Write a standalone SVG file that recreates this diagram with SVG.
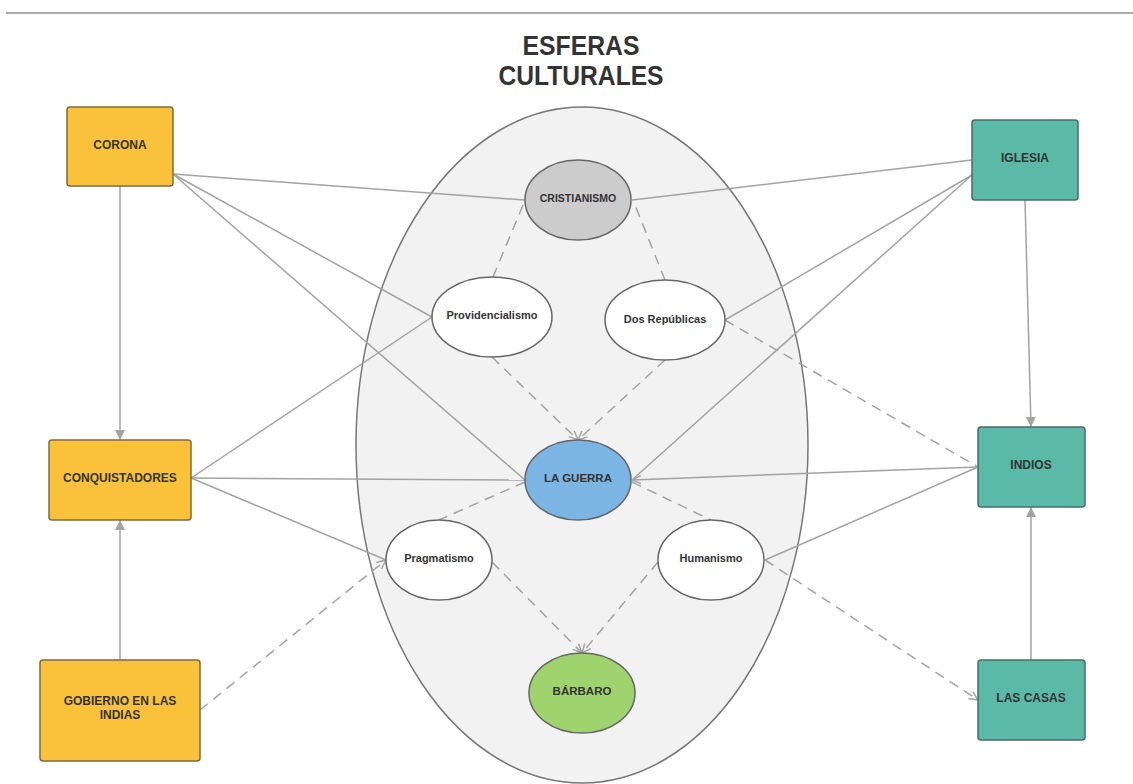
<svg xmlns="http://www.w3.org/2000/svg" width="1133" height="784" viewBox="0 0 1133 784">
<style>
.t{font-family:"Liberation Sans",Arial,sans-serif;font-weight:bold;fill:#333;text-anchor:middle;dominant-baseline:central}
.title{font-family:"Liberation Sans",Arial,sans-serif;font-weight:bold;font-size:27px;fill:#333;text-anchor:middle}
.yb{fill:#fac23a;stroke:#7d6b3c;stroke-width:1.5}
.tb{fill:#5ab9a7;stroke:#4a6d66;stroke-width:1.5}
.el{stroke:#666;stroke-width:1.5}
.c{fill:none;stroke:#a3a3a3;stroke-width:1.5}
.d{fill:none;stroke:#a3a3a3;stroke-width:1.5;stroke-dasharray:10,7}
</style>
<defs>
<marker id="fa" viewBox="0 0 10 10" refX="10" refY="5" markerWidth="10" markerHeight="10" markerUnits="userSpaceOnUse" orient="auto"><path d="M0,0 L10,5 L0,10 z" fill="#a3a3a3"/></marker>
<marker id="oa" viewBox="0 0 10 10" refX="10" refY="5" markerWidth="10" markerHeight="10" markerUnits="userSpaceOnUse" orient="auto"><path d="M1,1 L10,5 L1,9" fill="none" stroke="#a3a3a3" stroke-width="1.5"/></marker>
</defs>
<rect width="1133" height="784" fill="#fff"/>
<line x1="6" y1="13" x2="1133" y2="13" stroke="#aaa" stroke-width="2"/>
<text class="title" x="581" y="55" textLength="117" lengthAdjust="spacingAndGlyphs">ESFERAS</text>
<text class="title" x="581" y="85" textLength="165" lengthAdjust="spacingAndGlyphs">CULTURALES</text>
<g id="esfera"><ellipse cx="582" cy="445" rx="226" ry="338" fill="#f2f2f2" stroke="#777" stroke-width="1.5"/></g>
<g id="connectors">
<line class="c" x1="173" y1="174" x2="525" y2="200"/>
<line class="c" x1="173" y1="174" x2="432" y2="317"/>
<line class="c" x1="173" y1="174" x2="525" y2="480"/>
<line class="c" x1="120" y1="186" x2="120" y2="440" marker-end="url(#fa)"/>
<line class="c" x1="191" y1="478" x2="432" y2="317"/>
<line class="c" x1="191" y1="478" x2="525" y2="480"/>
<line class="c" x1="191" y1="478" x2="386" y2="560"/>
<line class="c" x1="120" y1="660" x2="120" y2="520" marker-end="url(#fa)"/>
<line class="d" x1="200" y1="710" x2="386" y2="560" marker-end="url(#oa)"/>
<line class="c" x1="972" y1="160" x2="632" y2="200"/>
<line class="c" x1="972" y1="175" x2="725" y2="320"/>
<line class="c" x1="972" y1="175" x2="632" y2="480"/>
<line class="c" x1="1025" y1="200" x2="1031" y2="427" marker-end="url(#fa)"/>
<line class="d" x1="725" y1="320" x2="978" y2="467"/>
<line class="c" x1="978" y1="467" x2="632" y2="480" marker-end="url(#oa)"/>
<line class="c" x1="978" y1="467" x2="765" y2="560"/>
<line class="d" x1="765" y1="560" x2="978" y2="700" marker-end="url(#oa)"/>
<line class="c" x1="1031" y1="660" x2="1031" y2="507" marker-end="url(#fa)"/>
<line class="d" x1="493" y1="277" x2="523" y2="205"/>
<line class="d" x1="665" y1="280" x2="635" y2="205"/>
<line class="d" x1="492" y1="357" x2="578" y2="440" marker-end="url(#oa)"/>
<line class="d" x1="665" y1="360" x2="578" y2="440" marker-end="url(#oa)"/>
<line class="d" x1="525" y1="482" x2="439" y2="520"/>
<line class="d" x1="632" y1="482" x2="711" y2="520"/>
<line class="d" x1="492" y1="562" x2="582" y2="653" marker-end="url(#oa)"/>
<line class="d" x1="658" y1="562" x2="582" y2="653" marker-end="url(#oa)"/>
</g>
<g id="corona"><rect class="yb" x="67" y="107" width="106" height="79" rx="3"/><text class="t" x="120" y="145" font-size="12">CORONA</text></g>
<g id="conquistadores"><rect class="yb" x="49" y="440" width="142" height="80" rx="3"/><text class="t" x="120" y="478" font-size="12">CONQUISTADORES</text></g>
<g id="gobierno"><rect class="yb" x="40" y="660" width="160" height="101" rx="3"/><text class="t" x="120" y="701" font-size="12">GOBIERNO EN LAS</text><text class="t" x="120" y="715" font-size="12">INDIAS</text></g>
<g id="iglesia"><rect class="tb" x="972" y="120" width="106" height="80" rx="3"/><text class="t" x="1025" y="158" font-size="12">IGLESIA</text></g>
<g id="indios"><rect class="tb" x="978" y="427" width="107" height="80" rx="3"/><text class="t" x="1031" y="465" font-size="12">INDIOS</text></g>
<g id="lascasas"><rect class="tb" x="978" y="660" width="107" height="80" rx="3"/><text class="t" x="1031" y="698" font-size="12">LAS CASAS</text></g>
<g id="cristianismo"><ellipse class="el" cx="578" cy="200" rx="53" ry="40" fill="#cccccc"/><text class="t" x="578" y="198" font-size="10.5">CRISTIANISMO</text></g>
<g id="providencialismo"><ellipse class="el" cx="492" cy="317" rx="60" ry="40" fill="#fff"/><text class="t" x="492" y="315" font-size="11">Providencialismo</text></g>
<g id="dosrepublicas"><ellipse class="el" cx="665" cy="320" rx="60" ry="40" fill="#fff"/><text class="t" x="665" y="319" font-size="11">Dos Repúblicas</text></g>
<g id="laguerra"><ellipse class="el" cx="578" cy="480" rx="53" ry="40" fill="#7ab5e3"/><text class="t" x="578" y="478" font-size="11.5">LA GUERRA</text></g>
<g id="pragmatismo"><ellipse class="el" cx="439" cy="560" rx="53" ry="40" fill="#fff"/><text class="t" x="439" y="558" font-size="11">Pragmatismo</text></g>
<g id="humanismo"><ellipse class="el" cx="711" cy="560" rx="53" ry="40" fill="#fff"/><text class="t" x="711" y="558" font-size="11">Humanismo</text></g>
<g id="barbaro"><ellipse class="el" cx="582" cy="693" rx="53" ry="40" fill="#9ed36e"/><text class="t" x="582" y="691" font-size="11.5">BÁRBARO</text></g>
</svg>
